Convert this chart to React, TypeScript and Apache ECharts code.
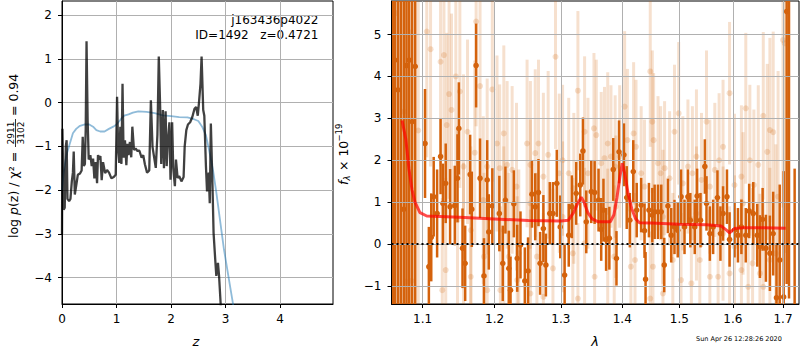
import React, { useEffect, useRef } from "react";
import * as echarts from "echarts";

const FONT = "DejaVu Sans";

// ---- axes ----
const zTicks = [0, 1, 2, 3, 4];
const logpTicks = [-4, -3, -2, -1, 0, 1, 2];
const lambdaTicks = [1.1, 1.2, 1.3, 1.4, 1.5, 1.6, 1.7];
const fluxTicks = [-1, 0, 1, 2, 3, 4, 5];
const zRange = [0, 4.97];
const logpRange = [-4.6, 2.32];
const lambdaRange = [1.0595, 1.7332];
const fluxRange = [-1.43, 5.8];

// ---- left panel: log p(z) (black) and prior-like curve (blue) ----
const pzChi2: [number, number][] = [
  [0.0, -3.0], [0.008, -0.6], [0.02, -1.5], [0.03, -2.45], [0.05, -2.4], [0.07, -1.0], [0.085, -0.86],
  [0.1, -2.2], [0.13, -2.25], [0.155, -2.2], [0.18, -1.8], [0.2, -1.6], [0.215, -1.12], [0.235, -2.1],
  [0.26, -1.9], [0.29, -1.65], [0.33, -1.62], [0.36, -1.55], [0.38, -0.78], [0.4, -1.45], [0.42, -1.4],
  [0.435, -0.6], [0.45, 1.4], [0.47, -0.4], [0.49, -1.3], [0.52, -1.2], [0.545, -1.45], [0.57, -1.28],
  [0.594, -1.73], [0.618, -1.36], [0.643, -1.84], [0.66, -1.2], [0.68, -1.3], [0.704, -1.22],
  [0.728, -1.77], [0.753, -1.36], [0.79, -1.61], [0.826, -1.54], [0.863, -1.6], [0.906, -1.73],
  [0.949, -1.7], [0.985, -1.65], [1.01, 0.13], [1.03, -1.08], [1.05, -1.38], [1.07, -0.55],
  [1.09, -1.4], [1.11, 0.43], [1.13, -1.26], [1.155, -0.86], [1.18, -1.43], [1.2, -0.94], [1.22, -1.2],
  [1.245, -0.9], [1.27, -1.25], [1.29, -0.55], [1.32, -1.08], [1.35, -1.05], [1.38, -1.1], [1.42, -1.1],
  [1.46, -1.26], [1.49, -1.2], [1.52, -1.41], [1.56, -1.6], [1.6, -1.55], [1.63, 0.05], [1.66, -1.01],
  [1.69, -1.25], [1.72, -1.49], [1.75, -0.73], [1.775, 1.05], [1.8, -0.1], [1.82, -1.4], [1.85, -0.17],
  [1.87, -1.5], [1.9, -0.2], [1.92, -1.45], [1.94, -0.9], [1.97, -0.45], [1.99, -1.76], [2.02, -0.45],
  [2.04, -1.5], [2.07, -1.91], [2.09, -1.3], [2.12, -1.72], [2.15, -1.68], [2.19, -1.8], [2.23, -1.7],
  [2.25, -1.0], [2.28, -0.63], [2.31, -0.5], [2.35, -0.45], [2.39, -0.33], [2.43, -0.14], [2.46, -0.1],
  [2.49, -0.3], [2.51, -0.03], [2.54, 0.43], [2.56, 1.05], [2.59, -0.17], [2.61, -0.3], [2.64, -1.46],
  [2.66, -2.03], [2.69, -1.6], [2.71, -2.3], [2.73, -0.48], [2.76, -1.9], [2.78, -2.98], [2.81, -3.58],
  [2.83, -3.96], [2.86, -3.66], [2.88, -3.95], [2.91, -4.6], [2.93, -5.5],
];
const pzPrior: [number, number][] = [
  [0.0, -2.0], [0.03, -1.6], [0.08, -1.2], [0.14, -0.95], [0.2, -0.7], [0.26, -0.6], [0.33, -0.53],
  [0.42, -0.5], [0.5, -0.5], [0.57, -0.55], [0.63, -0.63], [0.7, -0.66], [0.78, -0.66], [0.86, -0.6],
  [0.94, -0.55], [1.0, -0.5], [1.08, -0.38], [1.14, -0.3], [1.22, -0.27], [1.3, -0.23], [1.4, -0.2],
  [1.55, -0.21], [1.7, -0.24], [1.85, -0.29], [2.0, -0.31], [2.15, -0.33], [2.3, -0.34], [2.42, -0.38],
  [2.5, -0.42], [2.57, -0.55], [2.64, -0.75], [2.7, -1.1], [2.77, -1.55], [2.83, -2.05], [2.9, -2.7],
  [2.97, -3.35], [3.05, -3.95], [3.15, -4.7],
];

// ---- right panel: spectrum [lambda, flux, err] ----
const specMain: [number, number, number][] = [
  [1.0617, -2, 9], [1.0639, 4.39, 8], [1.0678, 3.68, 8], [1.0714, 7, 9], [1.0753, 0.83, 8],
  [1.0789, 4.26, 8], [1.0824, 4.39, 7], [1.0863, 2.92, 7], [1.0903, 4.24, 6],
  [1.1033, 2.4, 1.3], [1.1084, -0.54, 0.95], [1.1116, 0.16, 1.05], [1.1149, 1.13, 0.95], [1.1195, 0.73, 1.05],
  [1.1242, 2.09, 0.9], [1.1274, 0.97, 0.95], [1.1312, 1.45, 0.95], [1.1372, 0.89, 0.9], [1.1437, 0.92, 0.95],
  [1.1474, 1.57, 1.05], [1.1493, 2.76, 1.1], [1.1544, -0.1, 0.95], [1.1581, -0.46, 0.9], [1.1651, 1.66, 0.95],
  [1.1674, 0.83, 0.9], [1.1735, 4.26, 1.0], [1.1791, 1.57, 0.95], [1.1847, -0.76, 0.9], [1.1893, 1.53, 0.95],
  [1.1916, 0.29, 0.9], [1.1967, 0.91, 0.9], [1.2069, 0.73, 0.9], [1.2119, -0.46, 0.9], [1.2158, 1.05, 0.8],
  [1.2208, -0.58, 0.9], [1.2233, -1.1, 0.8], [1.2282, 0.96, 0.8], [1.2332, -0.34, 0.8], [1.2381, -0.02, 0.8],
  [1.2446, -0.88, 0.8], [1.2495, -0.64, 0.8], [1.2554, 1.19, 0.8], [1.2604, 0.89, 0.8], [1.2653, 1.23, 0.8],
  [1.2678, -0.46, 0.75], [1.2728, 0.37, 0.8], [1.2767, -0.5, 0.75], [1.2827, 0.73, 0.75], [1.2876, 0.73, 0.75],
  [1.2936, 1.45, 0.8], [1.299, 0.41, 0.75], [1.3059, -0.74, 0.75], [1.3124, 0.21, 0.75], [1.3173, 0.89, 0.75],
  [1.3243, 1.21, 0.75], [1.3308, 1.41, 0.75], [1.3351, 2.22, 0.8], [1.3405, 0.53, 0.75], [1.3486, 1.25, 0.75],
  [1.3541, 1.23, 0.75], [1.3605, 1.05, 0.75], [1.3649, 0.35, 0.75], [1.3686, 0.81, 0.75], [1.373, 0.11, 0.75],
  [1.3784, 0.14, 0.75], [1.3849, 1.78, 0.75], [1.3903, -0.34, 0.65], [1.3946, 2.2, 0.75], [1.4029, 2.13, 0.75],
  [1.4076, 1.11, 0.75], [1.4129, 0.57, 0.65], [1.4188, 1.73, 0.75], [1.4247, 0.81, 0.65], [1.4324, 0.93, 0.65],
  [1.4382, 0.32, 0.65], [1.44, -0.84, 0.65], [1.4459, 0.81, 0.65], [1.4518, 0.69, 0.65], [1.4559, 0.77, 0.65],
  [1.4618, 0.77, 0.65], [1.4676, 0.77, 0.65], [1.4729, -0.5, 0.65], [1.4794, 0.91, 0.65], [1.4853, 0.21, 0.65],
  [1.4912, 0.41, 0.65], [1.4971, 0.33, 0.65], [1.5031, 1.13, 0.65], [1.5094, 0.41, 0.65], [1.5156, 1.13, 0.65],
  [1.52, 0.57, 0.65], [1.5281, 0.41, 0.65], [1.5325, 1.15, 0.65], [1.5388, 0.57, 0.65], [1.5469, 1.85, 0.65],
  [1.55, 0.97, 0.65], [1.5563, 0.25, 0.65], [1.5625, 0.41, 0.65], [1.5706, 1.11, 0.65], [1.5763, 0.25, 0.65],
  [1.5813, 0.73, 0.65], [1.5888, 1.13, 0.65], [1.5938, 0.11, 0.65], [1.6033, 0.33, 0.65], [1.61, 0.21, 0.65],
  [1.6167, 0.41, 0.65], [1.6253, 0.21, 0.65], [1.632, 0.79, 0.65], [1.64, 0.73, 0.75], [1.648, 0.21, 0.75],
  [1.6533, -0.06, 0.75], [1.6587, 0.59, 0.75], [1.6653, -0.1, 0.8], [1.6733, -0.22, 0.9], [1.68, 0.25, 1.0],
  [1.6867, -1.28, 1.3], [1.6933, -0.38, 1.8], [1.7014, -1.26, 3.0], [1.7076, 5.55, 6.5], [1.7124, 7, 8.3],
  [1.7241, -1.6, 3.4],
];
const specAlt: [number, number, number][] = [
  [1.0648, 5.51, 8], [1.0753, 3.16, 8], [1.078, -0.9, 8], [1.0855, -0.88, 6], [1.0943, 2.71, 5],
  [1.1056, 5.07, 3], [1.1107, 4.65, 2.8], [1.1242, 4.35, 2.5], [1.1265, -1.1, 2.2], [1.1288, 4.51, 2.5],
  [1.1312, -0.62, 2.2], [1.1326, 2.84, 2.2], [1.1358, 3.58, 2.5], [1.1391, 3.2, 2.3], [1.1451, 4.0, 2.4],
  [1.1474, 0.57, 2.2], [1.1507, 3.64, 2.3], [1.1558, 1.85, 2.2], [1.1558, -0.06, 2.0], [1.1614, 2.68, 2.2],
  [1.166, -0.78, 2.0], [1.166, 0.33, 2.0], [1.1716, 2.18, 2.2], [1.1735, 5.31, 2.5], [1.1791, 3.77, 2.3],
  [1.1837, 1.05, 2.0], [1.1847, -0.3, 2.0], [1.1893, 1.85, 2.1], [1.1893, -1.1, 2.0], [1.1967, 3.69, 2.2],
  [1.2035, 2.4, 2.1], [1.2074, 1.81, 2.0], [1.2084, -1.1, 2.0], [1.2134, 2.64, 2.1], [1.2134, 0.33, 2.0],
  [1.2183, 1.89, 2.0], [1.2208, -0.3, 2.0], [1.2257, 1.77, 2.0], [1.2322, 1.37, 2.0], [1.2332, -0.86, 2.0],
  [1.2356, -0.22, 2.0], [1.248, 2.4, 2.0], [1.253, 1.89, 2.0], [1.253, 0.97, 2.0], [1.253, -1.18, 2.0],
  [1.2604, 2.17, 2.0], [1.2629, -0.3, 2.0], [1.2653, 2.4, 2.0], [1.2728, 1.61, 2.0], [1.2728, -1.26, 2.0],
  [1.2802, 2.13, 2.0], [1.2876, -0.58, 1.9], [1.2916, 4.47, 2.2], [1.2975, 1.69, 1.9], [1.3027, 2.0, 1.8],
  [1.3027, 0.65, 1.8], [1.3124, 1.69, 1.8], [1.3189, -0.22, 1.8], [1.3205, 1.33, 1.8], [1.327, 3.66, 1.9],
  [1.327, -1.3, 1.8], [1.3378, 2.68, 1.8], [1.3378, 0.02, 1.8], [1.3432, 1.69, 1.8], [1.353, 2.76, 1.8],
  [1.3541, -0.78, 1.8], [1.3568, 2.6, 1.8], [1.3649, 1.93, 1.7], [1.3703, 2.05, 1.7], [1.3757, 2.4, 1.7],
  [1.3757, 0.1, 1.7], [1.3811, 2.09, 1.7], [1.3865, -0.3, 1.7], [1.3881, 1.85, 1.7], [1.3892, 0.89, 1.7],
  [1.3957, 2.09, 1.7], [1.4041, 3.28, 1.8], [1.4088, 2.48, 1.7], [1.4147, -0.54, 1.6], [1.4194, 2.64, 1.7],
  [1.4218, -0.38, 1.6], [1.4235, 2.32, 1.6], [1.4324, 1.69, 1.6], [1.4382, 1.37, 1.6], [1.4482, 4.12, 1.8],
  [1.4482, -1.3, 1.6], [1.4518, 2.92, 1.7], [1.4529, -0.54, 1.6], [1.4541, 2.48, 1.6], [1.4618, 1.93, 1.6],
  [1.4665, 1.69, 1.6], [1.4706, 0.65, 1.6], [1.4706, -1.18, 1.6], [1.4735, 1.81, 1.6], [1.4824, 1.57, 1.6],
  [1.4882, -0.38, 1.6], [1.4912, 2.68, 1.6], [1.4988, 3.12, 1.7], [1.5031, -0.86, 1.6], [1.5063, 1.45, 1.6],
  [1.5156, 1.85, 1.6], [1.5219, -0.94, 1.6], [1.5238, 1.69, 1.6], [1.5313, 2.09, 1.6], [1.5313, 0.73, 1.6],
  [1.5375, -0.38, 1.6], [1.5406, 1.53, 1.6], [1.55, 2.92, 1.7], [1.5563, 1.37, 1.6], [1.5563, -0.78, 1.6],
  [1.5656, 1.77, 1.6], [1.5719, -0.78, 1.6], [1.5738, 2.0, 1.6], [1.5813, 2.32, 1.6], [1.5813, 0.25, 1.6],
  [1.5938, 3.6, 1.7], [1.5938, -0.7, 1.6], [1.6033, 1.41, 1.7], [1.6033, -0.06, 1.7], [1.6167, 1.61, 1.7],
  [1.6167, -0.62, 1.7], [1.62, 0.97, 1.7], [1.6253, 3.24, 1.8], [1.63, -1.02, 1.8], [1.6333, 2.0, 1.8],
  [1.6387, -0.46, 1.8], [1.6413, 1.41, 1.8], [1.65, 1.89, 1.9], [1.6533, -0.7, 1.9], [1.66, 3.06, 2.0],
  [1.66, -1.02, 2.0], [1.668, 2.2, 2.1], [1.6733, 2.72, 2.2], [1.6733, -0.38, 2.2], [1.68, 2.67, 2.4],
  [1.6853, -0.22, 2.6], [1.69, 1.13, 3.0], [1.7, 4.87, 4.0], [1.7034, 4.79, 5.0],
];
const modelFit: [number, number][] = [
  [1.0731, 2.95], [1.078, 2.5], [1.082, 1.8], [1.086, 1.3], [1.09, 1.0], [1.0965, 0.75], [1.1056, 0.67],
  [1.15, 0.64], [1.2, 0.6], [1.25, 0.56], [1.3, 0.55], [1.312, 0.57], [1.32, 0.75], [1.327, 0.98],
  [1.3324, 1.12], [1.337, 1.0], [1.343, 0.75], [1.35, 0.6], [1.36, 0.53], [1.38, 0.53], [1.386, 0.7],
  [1.391, 1.1], [1.396, 1.6], [1.4, 1.93], [1.404, 1.7], [1.41, 1.2], [1.416, 0.85], [1.423, 0.6],
  [1.4294, 0.51], [1.45, 0.5], [1.5, 0.47], [1.55, 0.46], [1.578, 0.43], [1.586, 0.35], [1.5938, 0.27],
  [1.603, 0.37], [1.62, 0.39], [1.66, 0.39], [1.7055, 0.38],
];

const fmtNum = (v: number) => (v < 0 ? "\u2212" + Math.abs(v) : String(v));
const lg = (v: number) => Math.log10(v);

const DARK = "#d4620c";
const LIGHT = "rgba(212,98,12,0.2)";

function errorBars(color: string, width: number, radius: number) {
  return (params: any, api: any) => {
    const x = api.value(0);
    const y = api.value(1);
    const e = api.value(2);
    const cs = params.coordSys;
    const top = cs.y;
    const bottom = cs.y + cs.height;
    const c = api.coord([x, y]);
    const y1 = Math.max(top, api.coord([x, y + e])[1]);
    const y2 = Math.min(bottom, api.coord([x, y - e])[1]);
    const children: any[] = [];
    if (y2 > y1) {
      children.push({
        type: "line",
        shape: { x1: c[0], y1, x2: c[0], y2 },
        style: { stroke: color, lineWidth: width },
      });
    }
    if (c[1] >= top + 1 && c[1] <= bottom - 1) {
      children.push({
        type: "circle",
        shape: { cx: c[0], cy: c[1], r: radius },
        style: { fill: color },
      });
    }
    return { type: "group", children };
  };
}

const axisCommon = (ticks: number[], fmt: (v: number) => string, z: number, margin: number) => ({
  type: "value" as const,
  z,
  axisLine: { show: true, onZero: false, lineStyle: { color: "#000", width: 1 } },
  axisTick: { show: true, inside: false, length: 4, lineStyle: { color: "#000", width: 1 }, customValues: ticks },
  axisLabel: { customValues: ticks, color: "#000", fontSize: 12, fontFamily: FONT, margin, formatter: fmt },
  splitLine: { show: true, lineStyle: { color: "#b0b0b0", width: 1 } },
});

export default function App() {
  const ref = useRef<HTMLDivElement>(null);
  useEffect(() => {
    if (!ref.current) return;
    const chart = echarts.init(ref.current, undefined, { renderer: "svg" });
    const lamTicksLog = lambdaTicks.map(lg);
    const option: any = {
      animation: false,
      textStyle: { fontFamily: FONT },
      grid: [
        { left: 62, top: 1, width: 271, height: 303, show: true, borderColor: "#000", borderWidth: 1 },
        { left: 391.5, top: 1, width: 407.5, height: 303, show: true, borderColor: "#000", borderWidth: 1 },
      ],
      xAxis: [
        { ...axisCommon(zTicks, fmtNum, 0, 9), gridIndex: 0, min: zRange[0], max: zRange[1] },
        {
          ...axisCommon(lamTicksLog, (v: number) => Math.pow(10, v).toFixed(1), 3, 9),
          gridIndex: 1,
          min: lg(lambdaRange[0]),
          max: lg(lambdaRange[1]),
        },
      ],
      yAxis: [
        { ...axisCommon(logpTicks, fmtNum, 0, 10), gridIndex: 0, min: logpRange[0], max: logpRange[1] },
        { ...axisCommon(fluxTicks, fmtNum, 3, 10), gridIndex: 1, min: fluxRange[0], max: fluxRange[1] },
      ],
      series: [
        {
          type: "line", xAxisIndex: 0, yAxisIndex: 0, data: pzPrior, showSymbol: false, z: 3,
          lineStyle: { color: "rgba(31,119,180,0.5)", width: 1.8 },
        },
        {
          type: "line", xAxisIndex: 0, yAxisIndex: 0, data: pzChi2, showSymbol: false, z: 4,
          lineStyle: { color: "rgba(0,0,0,0.75)", width: 2.3 },
        },
        {
          type: "custom", xAxisIndex: 1, yAxisIndex: 1, z: 1,
          data: specAlt.map(([l, f, e]) => [lg(l), f, e]),
          renderItem: errorBars(LIGHT, 3, 3),
        },
        {
          type: "custom", xAxisIndex: 1, yAxisIndex: 1, z: 1,
          data: specMain.map(([l, f, e]) => [lg(l), f, e]),
          renderItem: errorBars(DARK, 2.5, 2.8),
        },
        {
          type: "line", xAxisIndex: 1, yAxisIndex: 1, showSymbol: false, z: 5,
          data: modelFit.map(([l, f]) => [lg(l), f]),
          lineStyle: { color: "rgba(255,0,0,0.7)", width: 3 },
        },
        {
          type: "line", xAxisIndex: 1, yAxisIndex: 1, showSymbol: false, z: 6,
          data: [[lg(lambdaRange[0]), 0], [lg(lambdaRange[1]), 0]],
          lineStyle: { color: "#000", width: 2, type: [2, 3] },
        },
      ],
      graphic: [
        {
          type: "text", x: 318.5, y: 20,
          style: { text: "j163436p4022", fill: "#000", fontSize: 12, fontFamily: FONT, align: "right", verticalAlign: "middle" },
        },
        {
          type: "text", x: 318.5, y: 34.5,
          style: { text: "ID=1492   z=0.4721", fill: "#000", fontSize: 12, fontFamily: FONT, align: "right", verticalAlign: "middle" },
        },
        {
          type: "text", x: 196, y: 341,
          style: { text: "z", fill: "#000", fontSize: 13, fontStyle: "italic", fontFamily: FONT, align: "center", verticalAlign: "middle" },
        },
        {
          type: "text", x: 595, y: 341,
          style: { text: "λ", fill: "#000", fontSize: 13, fontStyle: "italic", fontFamily: FONT, align: "center", verticalAlign: "middle" },
        },
        {
          type: "text", x: 696, y: 339,
          style: { text: "Sun Apr 26 12:28:26 2020", fill: "#000", fontSize: 6.5, fontFamily: FONT, align: "left", verticalAlign: "middle" },
        },
        {
          type: "group", x: 15, y: 153, rotation: Math.PI / 2,
          children: [
            {
              type: "text", x: -85, y: -1.5,
              style: {
                text: "{n|log }{i|p}{n|(z) / χ² =}",
                align: "left", verticalAlign: "middle",
                rich: {
                  n: { fontSize: 12.5, fontFamily: FONT, fill: "#000" },
                  i: { fontSize: 12.5, fontFamily: FONT, fontStyle: "italic", fill: "#000" },
                },
              },
            },
            {
              type: "text", x: 20, y: -4.5,
              style: { text: "2911", fill: "#000", fontSize: 9, fontFamily: FONT, align: "center", verticalAlign: "middle" },
            },
            {
              type: "line", shape: { x1: 6, y1: 0.5, x2: 34, y2: 0.5 }, style: { stroke: "#000", lineWidth: 0.8 },
            },
            {
              type: "text", x: 20, y: 5.5,
              style: { text: "3102", fill: "#000", fontSize: 9, fontFamily: FONT, align: "center", verticalAlign: "middle" },
            },
            {
              type: "text", x: 37, y: -1.5,
              style: { text: "= 0.94", fill: "#000", fontSize: 12.5, fontFamily: FONT, align: "left", verticalAlign: "middle" },
            },
          ],
        },
        {
          type: "group", x: 344, y: 153, rotation: Math.PI / 2,
          children: [
            {
              type: "text", x: -32, y: -1,
              style: { text: "f", fill: "#000", fontSize: 12.5, fontStyle: "italic", fontFamily: FONT, align: "left", verticalAlign: "middle" },
            },
            {
              type: "text", x: -27.5, y: 3,
              style: { text: "λ", fill: "#000", fontSize: 8.5, fontStyle: "italic", fontFamily: FONT, align: "left", verticalAlign: "middle" },
            },
            {
              type: "text", x: -22, y: -1,
              style: { text: " × 10", fill: "#000", fontSize: 12.5, fontFamily: FONT, align: "left", verticalAlign: "middle" },
            },
            {
              type: "text", x: 11.5, y: -5.5,
              style: { text: "\u221219", fill: "#000", fontSize: 8.5, fontFamily: FONT, align: "left", verticalAlign: "middle" },
            },
          ],
        },
      ],
    };
    chart.setOption(option);
    return () => chart.dispose();
  }, []);
  return (
    <div
      ref={ref}
      style={{ position: "fixed", left: 0, top: 0, width: 800, height: 350, background: "#fff" }}
    />
  );
}
